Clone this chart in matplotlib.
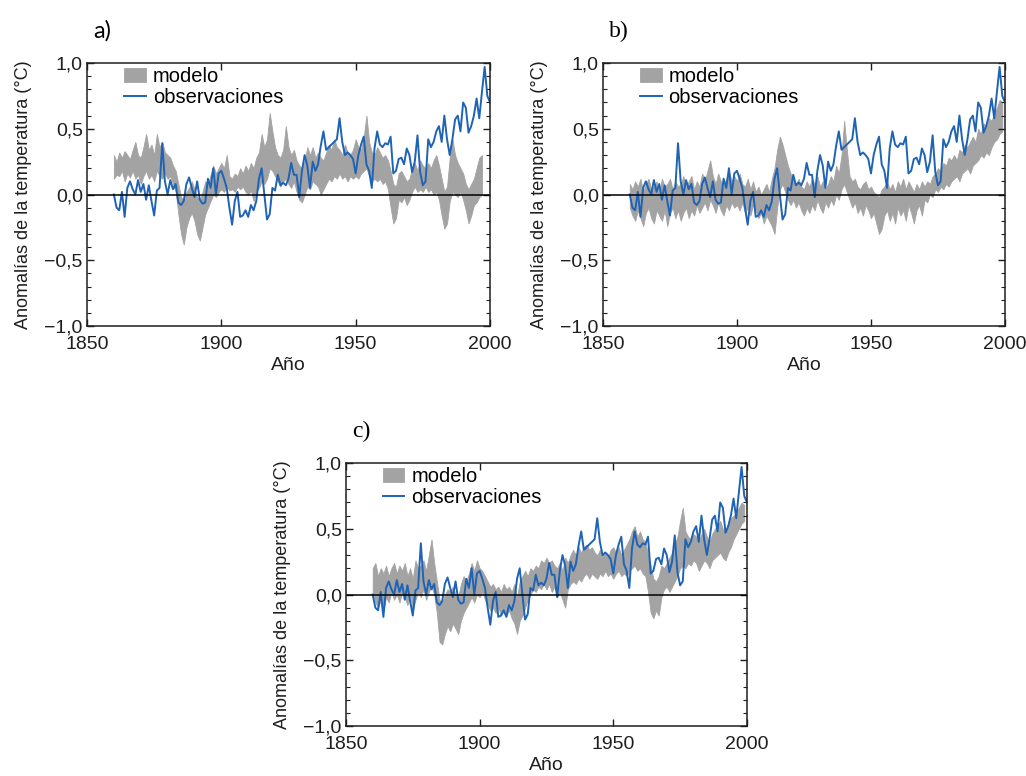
import numpy as np
import matplotlib
matplotlib.use("Agg")
import matplotlib.pyplot as plt
from matplotlib.ticker import MultipleLocator, FuncFormatter

# observed annual anomalies, 1860-2000
obs_years = list(range(1860, 2001))
obs = [
    0.00, -0.10, -0.12, 0.02, -0.17, 0.05, 0.10, 0.04, 0.00, 0.11,   # 1860s
    0.02, 0.08, -0.04, 0.07, -0.05, -0.16, 0.03, 0.05, 0.39, 0.10,   # 1870s
    0.00, 0.11, 0.04, 0.08, -0.06, -0.08, -0.05, 0.08, 0.13, 0.05,   # 1880s
    -0.02, 0.10, -0.04, -0.07, -0.06, 0.12, 0.05, 0.20, 0.00, 0.16,  # 1890s
    0.18, 0.12, 0.05, -0.10, -0.23, -0.05, 0.02, -0.17, -0.16, -0.12,  # 1900s
    -0.17, -0.08, -0.12, -0.05, 0.12, 0.20, 0.00, -0.19, -0.15, 0.05,  # 1910s
    0.03, 0.15, 0.07, 0.09, 0.07, 0.12, 0.24, 0.15, 0.15, -0.02,   # 1920s
    0.18, 0.30, 0.22, 0.05, 0.25, 0.18, 0.23, 0.37, 0.48, 0.34,    # 1930s
    0.36, 0.38, 0.40, 0.42, 0.58, 0.40, 0.30, 0.32, 0.30, 0.27,    # 1940s
    0.16, 0.30, 0.38, 0.44, 0.23, 0.18, 0.05, 0.35, 0.48, 0.38,    # 1950s
    0.36, 0.39, 0.38, 0.44, 0.16, 0.18, 0.27, 0.28, 0.23, 0.35,    # 1960s
    0.30, 0.17, 0.25, 0.45, 0.17, 0.07, 0.10, 0.42, 0.36, 0.40,    # 1970s
    0.48, 0.52, 0.40, 0.60, 0.42, 0.30, 0.42, 0.57, 0.60, 0.48,    # 1980s
    0.70, 0.66, 0.47, 0.52, 0.60, 0.73, 0.58, 0.78, 0.97, 0.75,    # 1990s
    0.70,
]

# a) model range, natural forcing only (1860-1997)
nat_years = list(range(1860, 1998))
nat_low = [
    0.12, 0.15, 0.14, 0.18, 0.10, 0.16, 0.13, 0.18, 0.12, 0.15,
    0.08, 0.14, 0.18, 0.12, 0.15, 0.10, 0.18, 0.14, 0.12, 0.16,
    0.12, 0.14, 0.08, 0.02, -0.15, -0.30, -0.38, -0.25, -0.18, -0.14,
    -0.20, -0.30, -0.35, -0.25, -0.15, -0.10, -0.05, 0.00, -0.02, 0.02,
    0.04, 0.02, 0.06, 0.03, 0.04, 0.02, 0.06, 0.04, 0.06, 0.02,
    0.00, 0.03, -0.05, 0.02, 0.05, 0.10, 0.08, 0.12, 0.20, 0.18,
    0.14, 0.10, 0.06, 0.10, 0.12, 0.08, 0.05, 0.10, 0.02, -0.04,
    -0.06, 0.00, 0.06, 0.04, 0.10, 0.08, 0.06, 0.00, 0.04, 0.08,
    0.12, 0.10, 0.14, 0.12, 0.16, 0.12, 0.14, 0.10, 0.14, 0.12,
    0.14, 0.12, 0.16, 0.18, 0.20, 0.14, 0.10, 0.12, 0.10, 0.12,
    0.08, 0.10, 0.04, -0.10, -0.22, -0.18, -0.04, -0.06, -0.02, -0.08,
    -0.04, 0.02, 0.06, 0.02, 0.04, 0.02, 0.06, 0.02, 0.04, 0.00,
    0.02, -0.04, -0.16, -0.26, -0.22, -0.05, 0.02, 0.00, -0.02, 0.02,
    -0.04, -0.12, -0.22, -0.16, -0.08, -0.06, -0.02, 0.00,
]
nat_high = [
    0.30, 0.25, 0.32, 0.28, 0.33, 0.30, 0.27, 0.34, 0.40, 0.30,
    0.28, 0.36, 0.46, 0.34, 0.38, 0.30, 0.46, 0.36, 0.40, 0.32,
    0.30, 0.28, 0.22, 0.18, 0.08, -0.02, -0.04, 0.02, 0.05, 0.10,
    0.04, -0.02, -0.05, 0.02, 0.10, 0.08, 0.15, 0.22, 0.16, 0.20,
    0.24, 0.20, 0.30, 0.14, 0.12, 0.16, 0.14, 0.20, 0.16, 0.22,
    0.18, 0.24, 0.20, 0.28, 0.32, 0.46, 0.36, 0.42, 0.62, 0.48,
    0.36, 0.30, 0.28, 0.34, 0.52, 0.36, 0.30, 0.34, 0.26, 0.22,
    0.20, 0.26, 0.36, 0.30, 0.36, 0.28, 0.32, 0.28, 0.26, 0.32,
    0.38, 0.34, 0.42, 0.36, 0.34, 0.30, 0.38, 0.32, 0.30, 0.34,
    0.42, 0.36, 0.34, 0.44, 0.60, 0.40, 0.32, 0.30, 0.36, 0.32,
    0.28, 0.30, 0.26, 0.18, 0.08, 0.06, 0.16, 0.18, 0.14, 0.10,
    0.12, 0.20, 0.24, 0.18, 0.26, 0.22, 0.20, 0.24, 0.20, 0.26,
    0.30, 0.22, 0.12, 0.02, 0.06, 0.28, 0.42, 0.30, 0.24, 0.20,
    0.16, 0.08, 0.04, 0.08, 0.12, 0.20, 0.28, 0.30,
]

# b) model range, anthropogenic forcing only (1860-1999)
ant_years = list(range(1860, 2000))
ant_low = [
    -0.10, -0.16, -0.20, -0.12, -0.18, -0.24, -0.14, -0.10, -0.18, -0.22,
    -0.12, -0.16, -0.20, -0.12, -0.24, -0.14, -0.10, -0.18, -0.12, -0.20,
    -0.14, -0.10, -0.18, -0.12, -0.16, -0.08, -0.14, -0.10, -0.06, -0.12,
    -0.04, -0.08, -0.14, -0.06, -0.12, -0.16, -0.08, -0.12, -0.06, -0.10,
    -0.08, -0.12, -0.06, -0.14, -0.10, -0.16, -0.08, -0.12, -0.18, -0.14,
    -0.22, -0.16, -0.20, -0.24, -0.30, -0.10, 0.04, 0.08, 0.02, -0.04,
    -0.08, -0.04, -0.10, -0.06, -0.12, -0.16, -0.10, -0.14, -0.08, -0.12,
    -0.04, -0.10, -0.14, -0.06, -0.10, -0.04, -0.08, 0.00, -0.04, 0.04,
    0.08, 0.02, -0.04, -0.10, -0.06, -0.14, -0.10, -0.16, -0.08, -0.12,
    -0.18, -0.14, -0.22, -0.30, -0.26, -0.16, -0.12, -0.20, -0.14, -0.22,
    -0.10, -0.16, -0.12, -0.20, -0.08, -0.14, -0.22, -0.12, -0.08, -0.16,
    -0.04, -0.06, 0.00, -0.02, 0.04, 0.02, 0.06, 0.04, 0.08, 0.06,
    0.10, 0.12, 0.14, 0.10, 0.16, 0.18, 0.20, 0.16, 0.22, 0.24,
    0.26, 0.30, 0.28, 0.32, 0.30, 0.36, 0.40, 0.42, 0.46, 0.48,
]
ant_high = [
    0.08, 0.04, 0.10, 0.06, 0.12, 0.02, 0.08, 0.12, 0.04, 0.06,
    0.10, 0.02, 0.12, 0.06, 0.08, 0.12, 0.04, 0.10, 0.06, 0.08,
    0.14, 0.06, 0.10, 0.14, 0.04, 0.10, 0.06, 0.16, 0.10, 0.18,
    0.26, 0.14, 0.08, 0.16, 0.10, 0.06, 0.12, 0.18, 0.10, 0.14,
    0.10, 0.16, 0.08, 0.06, 0.12, 0.04, 0.10, 0.02, 0.06, 0.00,
    0.04, 0.08, 0.02, 0.12, 0.20, 0.34, 0.44, 0.38, 0.30, 0.22,
    0.16, 0.10, 0.08, 0.12, 0.06, 0.04, 0.10, 0.06, 0.12, 0.08,
    0.14, 0.06, 0.10, 0.04, 0.08, 0.14, 0.10, 0.22, 0.16, 0.30,
    0.56, 0.34, 0.14, 0.10, 0.12, 0.06, 0.04, 0.08, 0.10, 0.04,
    0.06, 0.02, 0.00, -0.02, 0.04, 0.06, 0.10, 0.04, 0.08, 0.02,
    0.10, 0.06, 0.12, 0.04, 0.10, 0.06, 0.02, 0.08, 0.04, 0.10,
    0.06, 0.10, 0.08, 0.14, 0.16, 0.20, 0.18, 0.24, 0.22, 0.28,
    0.26, 0.30, 0.26, 0.34, 0.32, 0.38, 0.36, 0.40, 0.44, 0.40,
    0.50, 0.46, 0.54, 0.52, 0.58, 0.56, 0.62, 0.66, 0.72, 0.70,
]

# c) model range, natural + anthropogenic forcing (1860-1999)
all_years = list(range(1860, 2000))
all_low = [
    0.02, -0.06, -0.10, -0.04, -0.12, -0.02, -0.06, 0.02, -0.04, 0.00,
    -0.06, 0.02, -0.02, -0.08, 0.00, -0.12, -0.04, 0.02, -0.02, 0.04,
    -0.04, 0.02, 0.06, 0.00, -0.14, -0.36, -0.38, -0.30, -0.24, -0.28,
    -0.22, -0.26, -0.30, -0.20, -0.14, -0.10, -0.06, -0.02, -0.06, 0.00,
    -0.02, 0.02, -0.04, -0.08, -0.12, -0.10, -0.14, -0.10, -0.16, -0.12,
    -0.16, -0.12, -0.18, -0.22, -0.30, -0.20, -0.16, -0.10, -0.04, 0.00,
    0.04, 0.02, 0.06, 0.04, 0.08, 0.04, 0.08, 0.02, 0.06, -0.02,
    0.02, -0.04, -0.10, 0.04, 0.08, 0.10, 0.08, 0.12, 0.10, 0.14,
    0.16, 0.12, 0.16, 0.14, 0.12, 0.16, 0.14, 0.18, 0.14, 0.16,
    0.12, 0.16, 0.18, 0.14, 0.16, 0.14, 0.18, 0.20, 0.22, 0.18,
    0.20, 0.16, 0.14, 0.02, -0.14, -0.18, -0.12, -0.16, -0.02, 0.04,
    0.06, 0.02, 0.06, 0.10, 0.14, 0.20, 0.22, 0.20, 0.24, 0.22,
    0.26, 0.24, 0.18, 0.22, 0.26, 0.24, 0.20, 0.26, 0.28, 0.30,
    0.32, 0.28, 0.26, 0.32, 0.36, 0.42, 0.46, 0.50, 0.54, 0.56,
]
all_high = [
    0.20, 0.24, 0.14, 0.20, 0.16, 0.22, 0.14, 0.20, 0.24, 0.16,
    0.22, 0.18, 0.24, 0.14, 0.20, 0.12, 0.26, 0.20, 0.22, 0.26,
    0.18, 0.30, 0.42, 0.24, 0.10, -0.04, -0.06, 0.00, 0.04, 0.02,
    0.06, 0.00, -0.02, 0.08, 0.14, 0.10, 0.16, 0.24, 0.18, 0.26,
    0.20, 0.18, 0.14, 0.10, 0.06, 0.08, 0.04, 0.06, 0.02, 0.08,
    0.04, 0.06, 0.02, 0.08, -0.02, 0.10, 0.14, 0.18, 0.14, 0.20,
    0.18, 0.22, 0.20, 0.26, 0.24, 0.28, 0.24, 0.26, 0.22, 0.20,
    0.24, 0.18, 0.28, 0.24, 0.30, 0.34, 0.30, 0.36, 0.32, 0.36,
    0.38, 0.34, 0.36, 0.32, 0.30, 0.34, 0.30, 0.32, 0.28, 0.34,
    0.36, 0.32, 0.36, 0.30, 0.34, 0.38, 0.42, 0.48, 0.52, 0.44,
    0.48, 0.42, 0.40, 0.30, 0.22, 0.12, 0.10, 0.14, 0.22, 0.20,
    0.24, 0.28, 0.32, 0.38, 0.44, 0.56, 0.66, 0.48, 0.44, 0.42,
    0.46, 0.44, 0.40, 0.46, 0.50, 0.44, 0.40, 0.46, 0.50, 0.52,
    0.56, 0.50, 0.48, 0.54, 0.58, 0.60, 0.62, 0.66, 0.70, 0.68,
]

panel_labels = ["a)", "b)", "c)"]
label_fonts = ["Lato", "Liberation Serif", "Liberation Serif"]
y_ticks = [-1.0, -0.5, 0.0, 0.5, 1.0]
x_ticks = [1850, 1900, 1950, 2000]

OBS_COLOR = "#1f63b5"
MODEL_COLOR = "#a3a3a3"
INK = "#1e1e1e"

plt.rcParams["font.family"] = ["Liberation Sans", "DejaVu Sans"]


def comma_fmt(v, pos):
    s = f"{v:.1f}".replace(".", ",")
    return s.replace("-", "\u2212")


def draw_panel(ax, years, low, high, label, label_font):
    ax.fill_between(years, low, high, color=MODEL_COLOR, lw=0.6,
                    edgecolor=MODEL_COLOR, label="modelo")
    ax.plot(obs_years, obs, color=OBS_COLOR, lw=1.4, label="observaciones")
    ax.axhline(0, color="black", lw=1.1)

    ax.set_xlim(1850, 2000)
    ax.set_ylim(-1.0, 1.0)
    ax.set_xticks(x_ticks)
    ax.set_yticks(y_ticks)
    ax.yaxis.set_minor_locator(MultipleLocator(0.1))
    ax.yaxis.set_major_formatter(FuncFormatter(comma_fmt))
    ax.tick_params(which="both", direction="in", top=True, right=True,
                   labelsize=14, colors=INK)
    ax.tick_params(axis="x", pad=7)
    ax.tick_params(axis="y", pad=3)
    ax.tick_params(which="major", length=5, width=1)
    ax.tick_params(which="minor", length=3, width=0.8)
    for sp in ax.spines.values():
        sp.set_linewidth(1.1)
        sp.set_color(INK)

    ax.set_xlabel("Año", fontsize=14, color=INK, labelpad=3)
    ax.set_ylabel("Anomalías de la temperatura (°C)", fontsize=13,
                  color=INK, labelpad=9)
    ax.legend(loc="upper left", bbox_to_anchor=(0.093, 0.985), frameon=False,
              fontsize=14.5, handlelength=1.05, handletextpad=0.35,
              labelspacing=0.12, borderpad=0, borderaxespad=0)
    ax.text(0.015, 1.08, label, transform=ax.transAxes, fontsize=17,
            family=label_font, color="black", ha="left", va="bottom")


fig = plt.figure(figsize=(10.26, 7.76), dpi=100)
ax_a = fig.add_axes([0.0848, 0.5799, 0.3928, 0.3389])
ax_b = fig.add_axes([0.5877, 0.5799, 0.3918, 0.3389])
ax_c = fig.add_axes([0.3372, 0.0644, 0.3908, 0.3389])

draw_panel(ax_a, nat_years, nat_low, nat_high, panel_labels[0], label_fonts[0])
draw_panel(ax_b, ant_years, ant_low, ant_high, panel_labels[1], label_fonts[1])
draw_panel(ax_c, all_years, all_low, all_high, panel_labels[2], label_fonts[2])

fig.savefig("out.png", dpi=100)
